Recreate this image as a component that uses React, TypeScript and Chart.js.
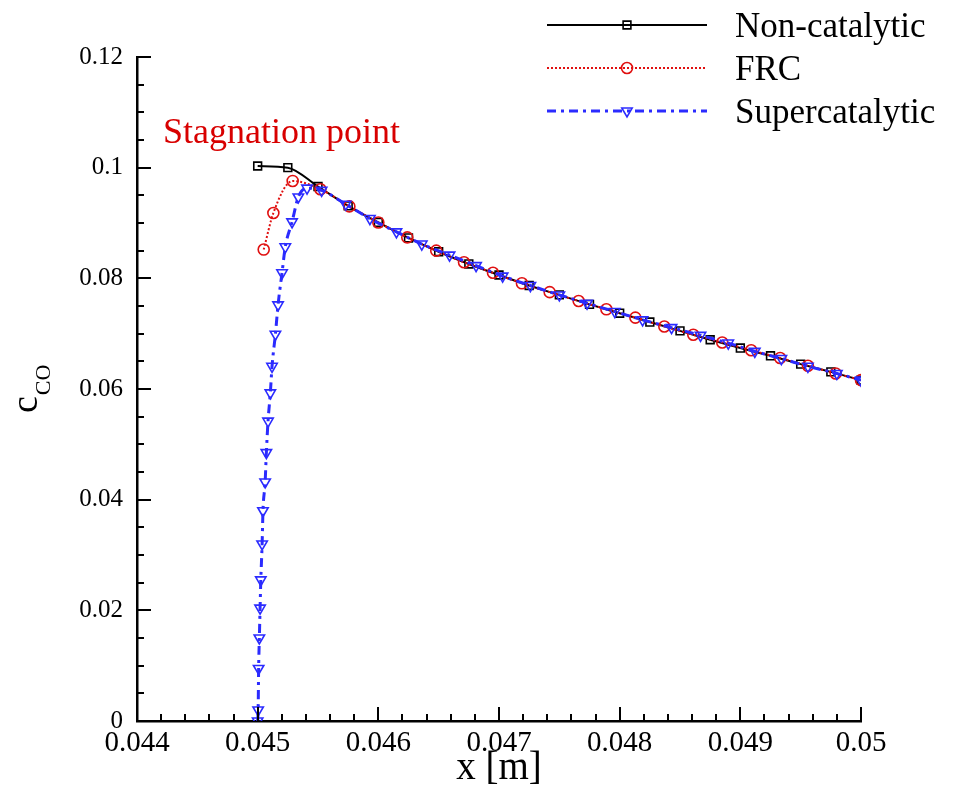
import React, { useEffect, useRef } from 'react';
import { Chart, registerables } from 'chart.js';

Chart.register(...registerables);

// ---- data ----
const nonCatX = [0.04500, 0.04525, 0.04550, 0.04575, 0.04600, 0.04625, 0.04650, 0.04675, 0.04700, 0.04725, 0.04750, 0.04775, 0.04800, 0.04825, 0.04850, 0.04875, 0.04900, 0.04925, 0.04950, 0.04975, 0.05000];
const nonCatY = [0.1003, 0.1000, 0.0966, 0.0931, 0.0901, 0.0873, 0.0848, 0.0826, 0.0806, 0.0787, 0.0770, 0.0753, 0.0737, 0.0721, 0.0705, 0.0689, 0.0674, 0.0660, 0.0645, 0.0631, 0.0616];

const frcX = [0.04505, 0.04513, 0.04529, 0.04552, 0.04576, 0.04600, 0.04624, 0.04648, 0.04671, 0.04695, 0.04719, 0.04742, 0.04766, 0.04789, 0.04813, 0.04837, 0.04861, 0.04885, 0.04909, 0.04933, 0.04956, 0.04979, 0.05000];
const frcY = [0.0852, 0.0918, 0.0976, 0.0961, 0.0930, 0.0901, 0.0874, 0.0850, 0.0829, 0.0810, 0.0791, 0.0775, 0.0759, 0.0744, 0.0729, 0.0713, 0.0698, 0.0684, 0.0670, 0.0656, 0.0642, 0.0628, 0.0616];

const superX = [0.045000, 0.045004, 0.045008, 0.045014, 0.045020, 0.045026, 0.045037, 0.045044, 0.045062, 0.045072, 0.045086, 0.045105, 0.045119, 0.045147, 0.045169, 0.045202, 0.045229, 0.045285, 0.045337, 0.045409, 0.045530, 0.045730, 0.045930, 0.046150, 0.046360, 0.046590, 0.046810, 0.047030, 0.047260, 0.047500, 0.047730, 0.047960, 0.048190, 0.048430, 0.048670, 0.048900, 0.049120, 0.049340, 0.049560, 0.049800, 0.050000];
const superY = [0.0000, 0.0020, 0.0095, 0.0150, 0.0204, 0.0255, 0.0320, 0.0380, 0.0432, 0.0485, 0.0542, 0.0593, 0.0641, 0.0699, 0.0752, 0.0810, 0.0857, 0.0902, 0.0947, 0.0963, 0.0959, 0.0934, 0.0908, 0.0884, 0.0862, 0.0842, 0.0823, 0.0804, 0.0787, 0.0770, 0.0755, 0.0740, 0.0725, 0.0711, 0.0697, 0.0683, 0.0668, 0.0655, 0.0641, 0.0628, 0.0616];

const seriesLabels = ['Non-catalytic', 'FRC', 'Supercatalytic'];
const annotationText = 'Stagnation point';
const xTitle = 'x [m]';
const yTitleMain = 'c';
const yTitleSub = 'CO';

const xMin = 0.044, xMax = 0.05, xStep = 0.001;
const yMin = 0, yMax = 0.12, yStep = 0.02;

const FONT = '"Liberation Serif", "Times New Roman", serif';
const BLACK = '#000000';
const RED = '#e01010';
const BLUE = '#2b2bff';

const toPts = (xs: number[], ys: number[]) => xs.map((x, i) => ({ x, y: ys[i] }));

const fmt = (v: number) => String(parseFloat(Number(v).toFixed(4)));

const decorPlugin = {
  id: 'decor',
  afterDraw(chart: any) {
    const ctx: CanvasRenderingContext2D = chart.ctx;
    const xs = chart.scales.x;
    const ys = chart.scales.y;
    const area = chart.chartArea;
    ctx.save();
    // inward ticks
    ctx.strokeStyle = '#000';
    ctx.lineWidth = 2;
    for (let i = 0; i <= 24; i++) {
      const py = Math.round(ys.getPixelForValue(i * 0.005));
      const len = i % 4 === 0 ? 14 : 7;
      ctx.beginPath();
      ctx.moveTo(area.left, py);
      ctx.lineTo(area.left + len, py);
      ctx.stroke();
    }
    for (let i = 0; i <= 30; i++) {
      const px = Math.round(xs.getPixelForValue(xMin + i * 0.0002));
      const len = i % 5 === 0 ? 14 : 7;
      ctx.beginPath();
      ctx.moveTo(px, area.bottom);
      ctx.lineTo(px, area.bottom - len);
      ctx.stroke();
    }

    // annotation
    ctx.fillStyle = '#d80000';
    ctx.font = `36px ${FONT}`;
    ctx.textAlign = 'left';
    ctx.textBaseline = 'alphabetic';
    ctx.fillText(annotationText, 163, 143);

    // y title (rotated, with subscript)
    ctx.save();
    ctx.translate(37, 413);
    ctx.rotate(-Math.PI / 2);
    ctx.fillStyle = '#000';
    ctx.font = `38px ${FONT}`;
    ctx.fillText(yTitleMain, 0, 0);
    const w = ctx.measureText(yTitleMain).width;
    ctx.font = `22px ${FONT}`;
    ctx.fillText(yTitleSub, w + 1, 13);
    ctx.restore();

    // legend
    const rows = [25, 68, 111];
    const lx0 = 547, lx1 = 707, mx = 627;
    chart.data.datasets.forEach((ds: any, i: number) => {
      const y = rows[i];
      ctx.save();
      ctx.strokeStyle = ds.borderColor;
      ctx.lineWidth = ds.borderWidth;
      ctx.setLineDash(ds.borderDash || []);
      ctx.beginPath();
      ctx.moveTo(lx0, y);
      ctx.lineTo(lx1, y);
      ctx.stroke();
      ctx.setLineDash([]);
      ctx.lineWidth = ds.pointBorderWidth;
      ctx.strokeStyle = ds.pointBorderColor;
      ctx.fillStyle = ds.pointBackgroundColor;
      ctx.beginPath();
      if (ds.pointStyle === 'rect') {
        const s = ds.pointRadius * Math.SQRT1_2;
        ctx.rect(mx - s, y - s, 2 * s, 2 * s);
      } else if (ds.pointStyle === 'circle') {
        ctx.arc(mx, y, ds.pointRadius, 0, Math.PI * 2);
      } else {
        const r = ds.pointRadius;
        ctx.moveTo(mx - r * 0.866, y - r * 0.5);
        ctx.lineTo(mx + r * 0.866, y - r * 0.5);
        ctx.lineTo(mx, y + r);
        ctx.closePath();
      }
      ctx.fill();
      ctx.stroke();
      ctx.restore();
      ctx.fillStyle = '#000';
      ctx.font = `35px ${FONT}`;
      ctx.textBaseline = 'alphabetic';
      ctx.fillText(seriesLabels[i], 735, y + 12);
    });
    ctx.restore();
  },
};

export default function App() {
  const ref = useRef<HTMLCanvasElement>(null);
  useEffect(() => {
    const canvas = ref.current!;
    const chart = new Chart(canvas, {
      type: 'scatter',
      data: {
        datasets: [
          {
            label: seriesLabels[0],
            data: toPts(nonCatX, nonCatY),
            showLine: true,
            borderColor: BLACK,
            borderWidth: 2,
            pointStyle: 'rect',
            pointRadius: 5.5,
            pointBorderWidth: 1.6,
            pointBorderColor: BLACK,
            pointBackgroundColor: 'rgba(255,255,255,0)',
            cubicInterpolationMode: 'monotone',
            order: 3,
          } as any,
          {
            label: seriesLabels[1],
            data: toPts(frcX, frcY),
            showLine: true,
            borderColor: RED,
            borderWidth: 2,
            borderDash: [2, 2],
            pointStyle: 'circle',
            pointRadius: 5.5,
            pointBorderWidth: 1.6,
            pointBorderColor: RED,
            pointBackgroundColor: 'rgba(255,255,255,0)',
            cubicInterpolationMode: 'monotone',
            order: 2,
          } as any,
          {
            label: seriesLabels[2],
            data: toPts(superX, superY),
            showLine: true,
            borderColor: BLUE,
            borderWidth: 3,
            borderDash: [9, 5, 3, 5],
            pointStyle: 'triangle',
            pointRotation: 180,
            pointRadius: 6,
            pointBorderWidth: 1.6,
            pointBorderColor: BLUE,
            pointBackgroundColor: 'rgba(255,255,255,0)',
            cubicInterpolationMode: 'monotone',
            order: 1,
          } as any,
        ],
      },
      options: {
        animation: false,
        responsive: false,
        devicePixelRatio: 1,
        layout: { padding: { top: 57, right: 97, left: 0, bottom: 0 } },
        plugins: { legend: { display: false }, tooltip: { enabled: false } },
        scales: {
          x: {
            type: 'linear',
            min: xMin,
            max: xMax,
            grid: { display: false, drawTicks: false },
            border: { display: true, color: '#000', width: 2.5 },
            ticks: {
              stepSize: xStep,
              color: '#000',
              font: { family: FONT, size: 29 },
              padding: 5,
              maxRotation: 0,
              autoSkip: false,
              callback: (v: any) => fmt(v),
            },
            title: {
              display: true,
              text: xTitle,
              color: '#000',
              font: { family: FONT, size: 39 },
              padding: { top: 0, bottom: -1 },
            },
            afterFit: (s: any) => { s.height = 70; },
          },
          y: {
            type: 'linear',
            min: yMin,
            max: yMax,
            grid: { display: false, drawTicks: false },
            border: { display: true, color: '#000', width: 2.5 },
            ticks: {
              stepSize: yStep,
              color: '#000',
              font: { family: FONT, size: 25 },
              padding: 14,
              autoSkip: false,
              callback: (v: any) => fmt(v),
            },
            afterFit: (s: any) => { s.width = 137; },
          },
        },
      },
      plugins: [decorPlugin],
    } as any);
    return () => chart.destroy();
  }, []);
  return (
    <div style={{ position: 'absolute', left: 0, top: 0, width: 958, height: 791, background: '#fff' }}>
      <canvas ref={ref} width={958} height={791} style={{ width: 958, height: 791, display: 'block' }} />
    </div>
  );
}
